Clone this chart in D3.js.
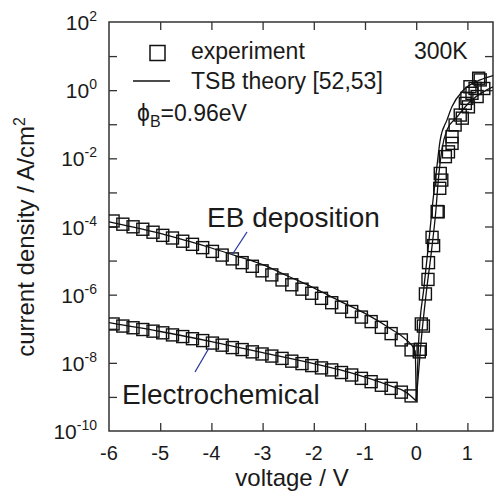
<!DOCTYPE html>
<html>
<head>
<meta charset="utf-8">
<script src="https://cdn.jsdelivr.net/npm/d3@7"></script>
<style>
  html, body { margin: 0; padding: 0; background: #fff; }
  svg { display: block; font-family: "Liberation Sans", Arimo, Arial, Helvetica, sans-serif; }
</style>
</head>
<body>
<svg id="chart" width="495" height="492"></svg>
<script>
// ---- measured J–V data at 300 K ----
// reverse-bias sweep voltages (shared by both samples)
const revVolts = [-5.92, -5.73, -5.53, -5.34, -5.14, -4.95, -4.76, -4.56, -4.37, -4.17,
                  -3.98, -3.79, -3.59, -3.40, -3.20, -3.01, -2.82, -2.62, -2.43, -2.23,
                  -2.04, -1.85, -1.65, -1.46, -1.26, -1.07, -0.88, -0.68, -0.49, -0.29, -0.10];
// EB-deposited contact, reverse current density (A/cm2)
const ebRevJ = [1.45e-4, 1.17e-4, 9.8e-5, 8.3e-5, 6.8e-5, 5.5e-5, 4.6e-5, 3.7e-5, 3.0e-5, 2.4e-5,
                1.86e-5, 1.45e-5, 1.12e-5, 8.7e-6, 6.8e-6, 5.0e-6, 3.8e-6, 2.7e-6, 1.95e-6, 1.45e-6,
                1.10e-6, 7.8e-7, 5.8e-7, 4.3e-7, 3.2e-7, 2.2e-7, 1.62e-7, 1.10e-7, 7.2e-8, 4.7e-8, 2.4e-8];
// electrochemically formed contact, reverse current density (A/cm2)
const ecRevJ = [1.38e-7, 1.20e-7, 1.07e-7, 9.5e-8, 8.5e-8, 7.6e-8, 6.6e-8, 5.9e-8, 5.1e-8, 4.5e-8,
                3.8e-8, 3.3e-8, 2.8e-8, 2.45e-8, 2.1e-8, 1.82e-8, 1.58e-8, 1.35e-8, 1.12e-8, 9.5e-9,
                8.3e-9, 7.1e-9, 6.2e-9, 5.2e-9, 4.4e-9, 3.5e-9, 2.8e-9, 2.2e-9, 1.78e-9, 1.38e-9, 1.07e-9];
// forward-bias points
const ebFwdVolts = [0.06, 0.14, 0.23, 0.31, 0.41, 0.46, 0.57, 0.70, 0.86, 0.96, 1.05, 1.15, 1.22];
const ebFwdJ = [2.1e-8, 1.2e-7, 2.8e-6, 4.8e-5, 2.75e-4, 1.32e-3, 1.12e-2, 4.3e-2, 0.186, 0.41, 1.26, 1.12, 2.24];
const ecFwdVolts = [0.08, 0.10, 0.18, 0.24, 0.34, 0.43, 0.47, 0.50, 0.63, 0.70, 0.76, 0.90, 0.99, 1.02, 1.09, 1.19, 1.25, 1.32];
const ecFwdJ = [2.5e-8, 1.38e-7, 1.05e-6, 8.7e-6, 2.75e-5, 2.7e-4, 3.6e-3, 2.3e-3, 1.55e-2, 2.75e-2, 9.5e-2, 0.151, 0.575, 0.324, 0.81, 0.65, 2.0, 1.12];

// ---- thermionic-field (TSB) model curves ----
const ebTheoryRevV = [-6, -5.5, -5, -4.5, -4, -3.5, -3, -2.5, -2, -1.5, -1, -0.5, -0.2, -0.02, 0];
const ebTheoryRevJ = [1.38e-4, 9.5e-5, 6.3e-5, 3.9e-5, 2.34e-5, 1.35e-5, 7.6e-6, 3.47e-6, 1.58e-6, 6.6e-7, 2.82e-7, 1.0e-7, 4.8e-8, 2.24e-8, 7.6e-10];
const ebTheoryFwdV = [0, 0.05, 0.15, 0.25, 0.33, 0.40, 0.47, 0.60, 0.70, 0.92, 1.25, 1.5];
const ebTheoryFwdJ = [7.6e-10, 5.0e-8, 1.58e-6, 3.98e-5, 6.3e-4, 5.0e-3, 3.55e-2, 0.132, 0.331, 1.0, 2.0, 2.69];
const ecTheoryRevV = [-6, -5, -4, -3, -2, -1.5, -1, -0.5, -0.2, 0];
const ecTheoryRevJ = [1.51e-7, 8.3e-8, 4.2e-8, 2.0e-8, 9.5e-9, 6.3e-9, 3.8e-9, 2.1e-9, 1.38e-9, 7.6e-10];
const ecTheoryFwdV = [0, 0.1, 0.2, 0.3, 0.38, 0.44, 0.50, 0.60, 0.80, 1.05, 1.31, 1.5];
const ecTheoryFwdJ = [7.6e-10, 5.0e-8, 1.26e-6, 2.0e-5, 2.5e-4, 3.16e-3, 1.74e-2, 6.8e-2, 0.166, 0.457, 0.891, 1.26];

// ---- axis ticks ----
const xTicks = [-6, -5, -4, -3, -2, -1, 0, 1];
const yExponents = [2, 1, 0, -1, -2, -3, -4, -5, -6, -7, -8, -9, -10];
const yLabelExponents = [2, 0, -2, -4, -6, -8, -10];

const svg = d3.select("#chart");
const W = 495, H = 492;
const m = { left: 109, right: 2, top: 22, bottom: 61 };
const x = d3.scaleLinear().domain([-6, 1.5]).range([m.left, W - m.right]);
const y = d3.scaleLog().domain([1e-10, 1e2]).range([H - m.bottom, m.top]);
const ink = "#1a1a1a";

svg.append("defs").append("clipPath").attr("id", "plotArea")
  .append("rect").attr("x", x(-6)).attr("y", y(1e2))
  .attr("width", x(1.5) - x(-6)).attr("height", y(1e-10) - y(1e2));

// tick marks, pointing inward on all four sides
const decadeVals = yExponents.map(e => Math.pow(10, e));
function tickStyle(g) {
  g.select(".domain").remove();
  g.selectAll(".tick line").attr("stroke", "#333").attr("stroke-width", 1.3);
  g.selectAll(".tick text").remove();
}
svg.append("g").attr("transform", `translate(0,${y(1e-10)})`)
  .call(d3.axisBottom(x).tickValues(xTicks.slice(1)).tickSize(-8)).call(tickStyle);
svg.append("g").attr("transform", `translate(0,${y(1e2)})`)
  .call(d3.axisTop(x).tickValues(xTicks.slice(1)).tickSize(-8)).call(tickStyle);
svg.append("g").attr("transform", `translate(${x(-6)},0)`)
  .call(d3.axisLeft(y).tickValues(decadeVals.slice(1, -1)).tickSize(-8)).call(tickStyle);
svg.append("g").attr("transform", `translate(${x(1.5)},0)`)
  .call(d3.axisRight(y).tickValues(decadeVals.slice(1, -1)).tickSize(-8)).call(tickStyle);

// frame
svg.append("rect").attr("x", x(-6)).attr("y", y(1e2))
  .attr("width", x(1.5) - x(-6)).attr("height", y(1e-10) - y(1e2))
  .attr("fill", "none").attr("stroke", "#333").attr("stroke-width", 1.5);

// tick labels
svg.append("g").selectAll("text").data(xTicks).join("text")
  .attr("x", d => x(d)).attr("y", 460).attr("text-anchor", "middle")
  .attr("font-size", 20).attr("fill", ink).text(d => String(d));

const yl = svg.append("g").selectAll("text").data(yLabelExponents).join("text")
  .attr("x", 97).attr("y", d => y(Math.pow(10, d)) + 8).attr("text-anchor", "end")
  .attr("font-size", 21).attr("fill", ink);
yl.append("tspan").text("10");
yl.append("tspan").attr("dy", -9).attr("font-size", 14).text(d => String(d));

// axis titles
svg.append("text").attr("x", 292).attr("y", 486).attr("text-anchor", "middle")
  .attr("font-size", 24).attr("fill", ink).text("voltage / V");
const yt = svg.append("text").attr("transform", "translate(34,237) rotate(-90)")
  .attr("text-anchor", "middle").attr("font-size", 24).attr("fill", ink);
yt.append("tspan").text("current density / A/cm");
yt.append("tspan").attr("dy", -9).attr("font-size", 16).text("2");

// model curves
const plot = svg.append("g").attr("clip-path", "url(#plotArea)");
const line = d3.line().x(d => x(d[0])).y(d => y(d[1])).curve(d3.curveMonotoneX);
const zipPts = (vs, js) => vs.map((v, i) => [v, js[i]]);
[[ebTheoryRevV, ebTheoryRevJ], [ebTheoryFwdV, ebTheoryFwdJ],
 [ecTheoryRevV, ecTheoryRevJ], [ecTheoryFwdV, ecTheoryFwdJ]].forEach(([vs, js]) => {
  plot.append("path").attr("d", line(zipPts(vs, js)))
    .attr("fill", "none").attr("stroke", "#111").attr("stroke-width", 1.3);
});

// measured points as open squares
const S = 12;
const pts = [].concat(
  zipPts(revVolts, ebRevJ), zipPts(revVolts, ecRevJ),
  zipPts(ebFwdVolts, ebFwdJ), zipPts(ecFwdVolts, ecFwdJ));
plot.append("g").selectAll("rect").data(pts).join("rect")
  .attr("x", d => x(d[0]) - S / 2).attr("y", d => y(d[1]) - S / 2)
  .attr("width", S).attr("height", S)
  .attr("fill", "none").attr("stroke", "#111").attr("stroke-width", 1.4);

// legend
svg.append("rect").attr("x", 150).attr("y", 45.5).attr("width", 15).attr("height", 15)
  .attr("fill", "none").attr("stroke", "#111").attr("stroke-width", 1.5);
svg.append("text").attr("x", 191).attr("y", 59).attr("font-size", 23).attr("fill", ink).text("experiment");
svg.append("line").attr("x1", 133).attr("x2", 170).attr("y1", 81).attr("y2", 81)
  .attr("stroke", "#111").attr("stroke-width", 1.4);
svg.append("text").attr("x", 191).attr("y", 89).attr("font-size", 23).attr("fill", ink).text("TSB theory [52,53]");
svg.append("text").attr("x", 414).attr("y", 59).attr("font-size", 23).attr("fill", ink).text("300K");
const phi = svg.append("text").attr("x", 137).attr("y", 121).attr("font-size", 23).attr("fill", ink);
phi.append("tspan").text("\u03d5");
phi.append("tspan").attr("dy", 6).attr("font-size", 16).text("B");
phi.append("tspan").attr("dy", -6).text("=0.96eV");

// sample annotations with pointer lines
svg.append("text").attr("x", 207).attr("y", 227).attr("font-size", 28).attr("fill", ink).text("EB deposition");
svg.append("line").attr("x1", 247).attr("y1", 232).attr("x2", 232).attr("y2", 255)
  .attr("stroke", "#2b3a9e").attr("stroke-width", 1.3);
svg.append("text").attr("x", 122).attr("y", 404).attr("font-size", 28).attr("fill", ink).text("Electrochemical");
svg.append("line").attr("x1", 209).attr("y1", 348).attr("x2", 195).attr("y2", 372)
  .attr("stroke", "#2b3a9e").attr("stroke-width", 1.3);
</script>
</body>
</html>
